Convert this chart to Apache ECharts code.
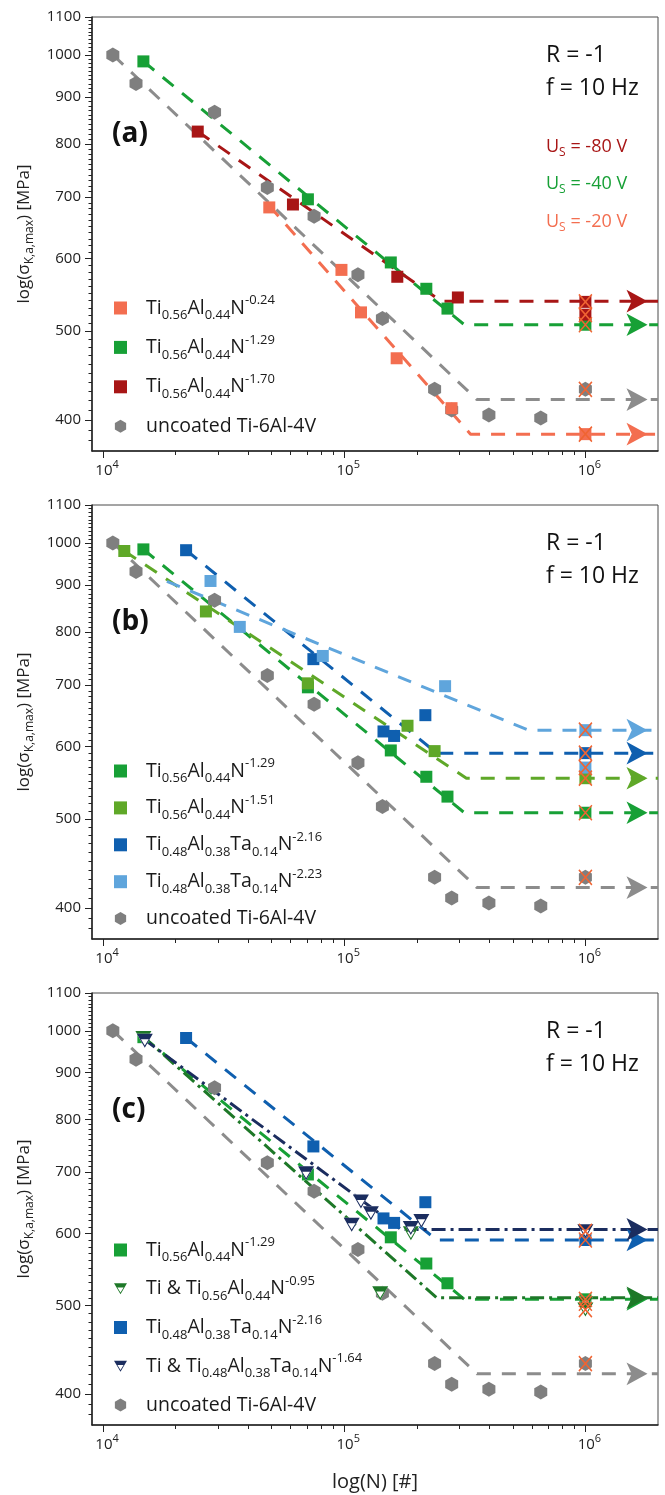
<!DOCTYPE html>
<html><head><meta charset="utf-8">
<script src="https://cdn.jsdelivr.net/npm/echarts@6/dist/echarts.min.js"></script>
<style>html,body{margin:0;padding:0;background:#fff}#c{width:665px;height:1495px}</style>
</head><body><div id="c"></div>
<script>
// ---------------- data (N = cycles, S = stress amplitude in MPa) ----------------
const uncoatedN = [10980, 13700, 29000, 48000, 75000, 114000, 144000, 237000, 279000, 398000, 653000, 1000000];
const uncoatedS = [1000, 931, 866, 717, 667, 576, 516, 432, 410, 405, 402, 432];
const uncoatedRunout = [0,0,0,0,0,0,0,0,0,0,0,1];
const uncoatedFitN = [11000, 355000, 2000000];
const uncoatedFitS = [1000, 421, 421];

const tialn024N = [48900, 97400, 117400, 165000, 278600, 1000000];
const tialn024S = [682, 583, 524, 467, 412, 386];
const tialn024Runout = [0,0,0,0,0,1];
const tialn024FitN = [48900, 334000, 2000000];
const tialn024FitS = [685, 386, 386];

const tialn129N = [14700, 70700, 156000, 219000, 268000, 1000000];
const tialn129S = [984, 696, 594, 556, 529, 508];
const tialn129Runout = [0,0,0,0,0,1];
const tialn129FitN = [14700, 315000, 2000000];
const tialn129FitS = [984, 508, 508];

const tialn170N = [24700, 61300, 166000, 296000, 1000000, 1000000];
const tialn170S = [825, 687, 573, 544, 538, 521];
const tialn170Runout = [0,0,0,0,1,1];
const tialn170FitN = [24700, 252000, 2000000];
const tialn170FitS = [825, 539, 539];

const tialn151N = [12250, 26700, 70700, 183000, 237000, 1000000];
const tialn151S = [980, 842, 703, 632, 593, 554];
const tialn151Runout = [0,0,0,0,0,1];
const tialn151FitN = [12250, 321000, 2000000];
const tialn151FitS = [980, 554, 554];

const tialtan216N = [22100, 74500, 145500, 161000, 217000, 1000000];
const tialtan216S = [982, 747, 623, 616, 649, 590];
const tialtan216Runout = [0,0,0,0,0,1];
const tialtan216FitN = [22100, 242000, 2000000];
const tialtan216FitS = [982, 590, 590];

const tialtan223N = [27900, 36900, 81500, 262000, 1000000, 1000000];
const tialtan223S = [909, 810, 753, 698, 625, 569];
const tialtan223Runout = [0,0,0,0,1,1];
const tialtan223FitN = [18400, 580000, 2000000];
const tialtan223FitS = [908, 625, 625];

const tiTialn095N = [14700, 141000, 189000, 1000000, 1000000];
const tiTialn095S = [982, 516, 600, 503, 495];
const tiTialn095Runout = [0,0,0,1,1];
const tiTialn095FitN = [14700, 242000, 2000000];
const tiTialn095FitS = [985, 510, 510];

const tiTialtan164N = [14900, 69500, 107400, 117300, 129000, 188800, 208900, 1000000];
const tiTialtan164S = [975, 698, 613, 650, 631, 608, 619, 603];
const tiTialtan164Runout = [0,0,0,0,0,0,0,1];
const tiTialtan164FitN = [14700, 172000, 2000000];
const tiTialtan164FitS = [980, 606, 606];

// axes
const xMin = 9000, xMax = 2000000;
const yMin = 370, yMax = 1100;
const xMajorTicks = [10000, 100000, 1000000];
const xMinorTicks = [20000,30000,40000,50000,60000,70000,80000,90000,200000,300000,400000,500000,600000,700000,800000,900000];
const yTickLabels = [400, 500, 600, 700, 800, 900, 1000, 1100];
const yMinorStep = 10;

// ---------------- styling ----------------
const FONT = "'Open Sans', 'Noto Sans', sans-serif";
const HEX = 'path://M10,0L18.66,5L18.66,15L10,20L1.34,15L1.34,5Z';
const TRI_RING = 'path://M0,0L20,0L10,17ZM5.2,6.5L10,14.2L14.8,6.5Z';
const TRI_FILL = 'path://M0,0L20,0L10,17Z';
const XMARK = 'path://M0,0L12,14M12,0L0,14';
const DASH = [14, 11];
const DASHDOT = [14, 5, 3, 5];

const DS = {
  uncoated: {name:'uncoated Ti-6Al-4V', N:uncoatedN, S:uncoatedS, R:uncoatedRunout, fN:uncoatedFitN, fS:uncoatedFitS, color:'#7f7f7f', line:'#8c8c8c', sym:'hex', dash:DASH},
  tialn024: {name:'Ti{sub|0.56}Al{sub|0.44}N{sup|-0.24}', N:tialn024N, S:tialn024S, R:tialn024Runout, fN:tialn024FitN, fS:tialn024FitS, color:'#F36E50', line:'#F36E50', sym:'sq', dash:DASH},
  tialn129: {name:'Ti{sub|0.56}Al{sub|0.44}N{sup|-1.29}', N:tialn129N, S:tialn129S, R:tialn129Runout, fN:tialn129FitN, fS:tialn129FitS, color:'#17A036', line:'#17A036', sym:'sq', dash:DASH},
  tialn170: {name:'Ti{sub|0.56}Al{sub|0.44}N{sup|-1.70}', N:tialn170N, S:tialn170S, R:tialn170Runout, fN:tialn170FitN, fS:tialn170FitS, color:'#A81616', line:'#A81616', sym:'sq', dash:DASH},
  tialn151: {name:'Ti{sub|0.56}Al{sub|0.44}N{sup|-1.51}', N:tialn151N, S:tialn151S, R:tialn151Runout, fN:tialn151FitN, fS:tialn151FitS, color:'#5FA828', line:'#5FA828', sym:'sq', dash:DASH},
  tialtan216: {name:'Ti{sub|0.48}Al{sub|0.38}Ta{sub|0.14}N{sup|-2.16}', N:tialtan216N, S:tialtan216S, R:tialtan216Runout, fN:tialtan216FitN, fS:tialtan216FitS, color:'#0F5FAF', line:'#0F5FAF', sym:'sq', dash:DASH},
  tialtan223: {name:'Ti{sub|0.48}Al{sub|0.38}Ta{sub|0.14}N{sup|-2.23}', N:tialtan223N, S:tialtan223S, R:tialtan223Runout, fN:tialtan223FitN, fS:tialtan223FitS, color:'#5FA5DC', line:'#5FA5DC', sym:'sq', dash:DASH},
  tiTialn095: {name:'Ti & Ti{sub|0.56}Al{sub|0.44}N{sup|-0.95}', N:tiTialn095N, S:tiTialn095S, R:tiTialn095Runout, fN:tiTialn095FitN, fS:tiTialn095FitS, color:'#1E7828', line:'#1E7828', sym:'tri', dash:DASHDOT},
  tiTialtan164: {name:'Ti & Ti{sub|0.48}Al{sub|0.38}Ta{sub|0.14}N{sup|-1.64}', N:tiTialtan164N, S:tiTialtan164S, R:tiTialtan164Runout, fN:tiTialtan164FitN, fS:tiTialtan164FitS, color:'#1B2D5F', line:'#1B2D5F', sym:'tri', dash:DASHDOT}
};

const panels = [
  {label:'(a)', top:17, legendTop:294, legendGap:11.4, draw:['uncoated','tialn024','tialn129','tialn170'], legend:['tialn024','tialn129','tialn170','uncoated'], us:true},
  {label:'(b)', top:505, legendTop:757, legendGap:8.9, draw:['uncoated','tialn129','tialn151','tialtan216','tialtan223'], legend:['tialn129','tialn151','tialtan216','tialtan223','uncoated'], us:false},
  {label:'(c)', top:993, legendTop:1236, legendGap:10.75, draw:['uncoated','tialn129','tialtan216','tiTialn095','tiTialtan164'], legend:['tialn129','tiTialn095','tialtan216','tiTialtan164','uncoated'], us:false}
];
const usLabels = [
  {text:'U{sub|S} = -80 V', color:'#A81616', dy:130},
  {text:'U{sub|S} = -40 V', color:'#17A036', dy:167},
  {text:'U{sub|S} = -20 V', color:'#F36E50', dy:205}
];

// ---------------- build ----------------
const lg = v => Math.log10(v);
const yMinor = [];
for (let v = yMin + yMinorStep; v < yMax; v += yMinorStep) { if (v % 100 !== 0) yMinor.push(v); }

const grids = [], xAxes = [], yAxes = [], series = [], legends = [], graphics = [];
const axisColor = '#222';

panels.forEach((p, pi) => {
  grids.push({left:92, right:7, top:p.top, height:434, show:true, borderColor:'#4a4a4a', borderWidth:1, containLabel:false});
  xAxes.push({
    type:'value', gridIndex:pi, min:lg(xMin), max:lg(xMax), position:'bottom',
    axisLine:{show:true, onZero:false, lineStyle:{color:axisColor, width:1.5}},
    axisTick:{show:true, customValues:xMajorTicks.map(lg), length:7, lineStyle:{color:axisColor, width:1}},
    axisLabel:{customValues:xMajorTicks.map(lg), margin:8, color:axisColor, fontFamily:FONT, fontSize:15, lineHeight:24,
      padding:[0,0,0,8],
      formatter: v => '10{sup|' + Math.round(v) + '}',
      rich:{sup:{fontSize:11, lineHeight:11, verticalAlign:'top', fontFamily:FONT, color:axisColor}}},
    splitLine:{show:false},
    name: pi === 2 ? 'log(N) [#]' : '', nameLocation:'middle', nameGap:45,
    nameTextStyle:{fontFamily:FONT, fontSize:20, color:axisColor, lineHeight:24}
  });
  xAxes.push({
    type:'value', gridIndex:pi, min:lg(xMin), max:lg(xMax), position:'bottom',
    axisLine:{show:false, onZero:false},
    axisTick:{show:true, customValues:xMinorTicks.map(lg), length:4, lineStyle:{color:axisColor, width:1}},
    axisLabel:{show:false}, splitLine:{show:false}
  });
  yAxes.push({
    type:'value', gridIndex:pi, min:lg(yMin), max:lg(yMax), position:'left',
    axisLine:{show:true, onZero:false, lineStyle:{color:axisColor, width:1.5}},
    axisTick:{show:true, customValues:yTickLabels.map(lg), length:7, lineStyle:{color:axisColor, width:1}},
    axisLabel:{customValues:yTickLabels.map(lg), margin:11, color:axisColor, fontFamily:FONT, fontSize:15,
      formatter: v => String(Math.round(Math.pow(10, v)))},
    splitLine:{show:false},
    name:'log(σ{sub|K,a,max}) [MPa]', nameLocation:'middle', nameGap:48,
    nameTextStyle:{fontFamily:FONT, fontSize:17, color:axisColor, lineHeight:24,
      rich:{sub:{fontSize:12, lineHeight:12, verticalAlign:'bottom', fontFamily:FONT, color:axisColor}}}
  });
  yAxes.push({
    type:'value', gridIndex:pi, min:lg(yMin), max:lg(yMax), position:'left',
    axisLine:{show:false, onZero:false},
    axisTick:{show:true, customValues:yMinor.map(lg), length:3.5, lineStyle:{color:axisColor, width:1}},
    axisLabel:{show:false}, splitLine:{show:false}
  });

  const xi = 2 * pi, yi = 2 * pi;
  // fit lines
  p.draw.forEach(k => {
    const d = DS[k];
    const pts = d.fN.map((n, i) => [lg(n), lg(d.fS[i])]);
    const data = pts.map((pt, i) => i < pts.length - 1 ? {value:pt} :
      {value:pt, symbol:'arrow', symbolSize:[17, 21], symbolRotate:-90, symbolOffset:[-10.5, 0],
       itemStyle:{color:d.line, opacity:1, borderWidth:0}});
    series.push({type:'line', xAxisIndex:xi, yAxisIndex:yi, data, symbol:'none', clip:false, silent:true, z:2,
      lineStyle:{color:d.line, width:3, type:d.dash}, itemStyle:{color:d.line, opacity:1, borderWidth:0}});
  });
  // markers
  p.draw.forEach(k => {
    const d = DS[k];
    const pts = d.N.map((n, i) => [lg(n), lg(d.S[i])]);
    if (d.sym === 'tri') {
      series.push({type:'scatter', xAxisIndex:xi, yAxisIndex:yi, data:pts, symbol:TRI_FILL, symbolSize:[16, 14],
        itemStyle:{color:'#ffffff', opacity:1}, silent:true, z:3});
    }
    const symbol = d.sym === 'hex' ? HEX : d.sym === 'tri' ? TRI_RING : 'rect';
    const size = d.sym === 'hex' ? [13, 15] : d.sym === 'tri' ? [16, 14] : 12;
    series.push({type:'scatter', name:d.name, xAxisIndex:xi, yAxisIndex:yi, data:pts, symbol, symbolSize:size,
      itemStyle:{color:d.color, opacity:1}, silent:true, z:3});
  });
  // run-out crosses
  p.draw.forEach(k => {
    const d = DS[k];
    const pts = d.N.map((n, i) => [lg(n), lg(d.S[i])]).filter((pt, i) => d.R[i]);
    series.push({type:'scatter', xAxisIndex:xi, yAxisIndex:yi, data:pts, symbol:XMARK, symbolSize:[13, 15],
      itemStyle:{color:'rgba(0,0,0,0)', borderColor:'#F06432', borderWidth:1.6, opacity:1}, silent:true, z:4});
  });

  legends.push({
    orient:'vertical', left:114, top:p.legendTop, itemGap:p.legendGap, itemWidth:13, itemHeight:13, padding:0,
    selectedMode:false, data:p.legend.map(k => DS[k].name),
    textStyle:{fontFamily:FONT, fontSize:19.5, color:'#1a1a1a', lineHeight:28, padding:[0,0,0,14],
      rich:{sub:{fontSize:13, lineHeight:13, verticalAlign:'bottom', fontFamily:FONT, color:'#1a1a1a'},
            sup:{fontSize:13, lineHeight:13, verticalAlign:'top', fontFamily:FONT, color:'#1a1a1a'}}}
  });

  graphics.push({type:'text', x:546, y:p.top + 38, silent:true,
    style:{text:'R = -1', fontFamily:FONT, fontSize:23, fill:'#111', verticalAlign:'middle', align:'left'}});
  graphics.push({type:'text', x:546, y:p.top + 71, silent:true,
    style:{text:'f = 10 Hz', fontFamily:FONT, fontSize:23, fill:'#111', verticalAlign:'middle', align:'left'}});
  graphics.push({type:'text', x:112, y:p.top + 117, silent:true,
    style:{text:p.label, fontFamily:FONT, fontSize:28, fontWeight:'bold', fill:'#111', verticalAlign:'middle', align:'left'}});
  if (p.us) {
    usLabels.forEach(u => {
      graphics.push({type:'text', x:546, y:p.top + u.dy, silent:true,
        style:{text:u.text, fontFamily:FONT, fontSize:18, lineHeight:24, fill:u.color, verticalAlign:'middle', align:'left',
          rich:{sub:{fontSize:12, lineHeight:12, verticalAlign:'bottom', fontFamily:FONT, fill:u.color}}}});
    });
  }
});

const chart = echarts.init(document.getElementById('c'), null, {renderer:'canvas'});
chart.setOption({
  animation:false,
  backgroundColor:'#ffffff',
  grid:grids, xAxis:xAxes, yAxis:yAxes, legend:legends, series, graphic:graphics
});
</script>
</body></html>
